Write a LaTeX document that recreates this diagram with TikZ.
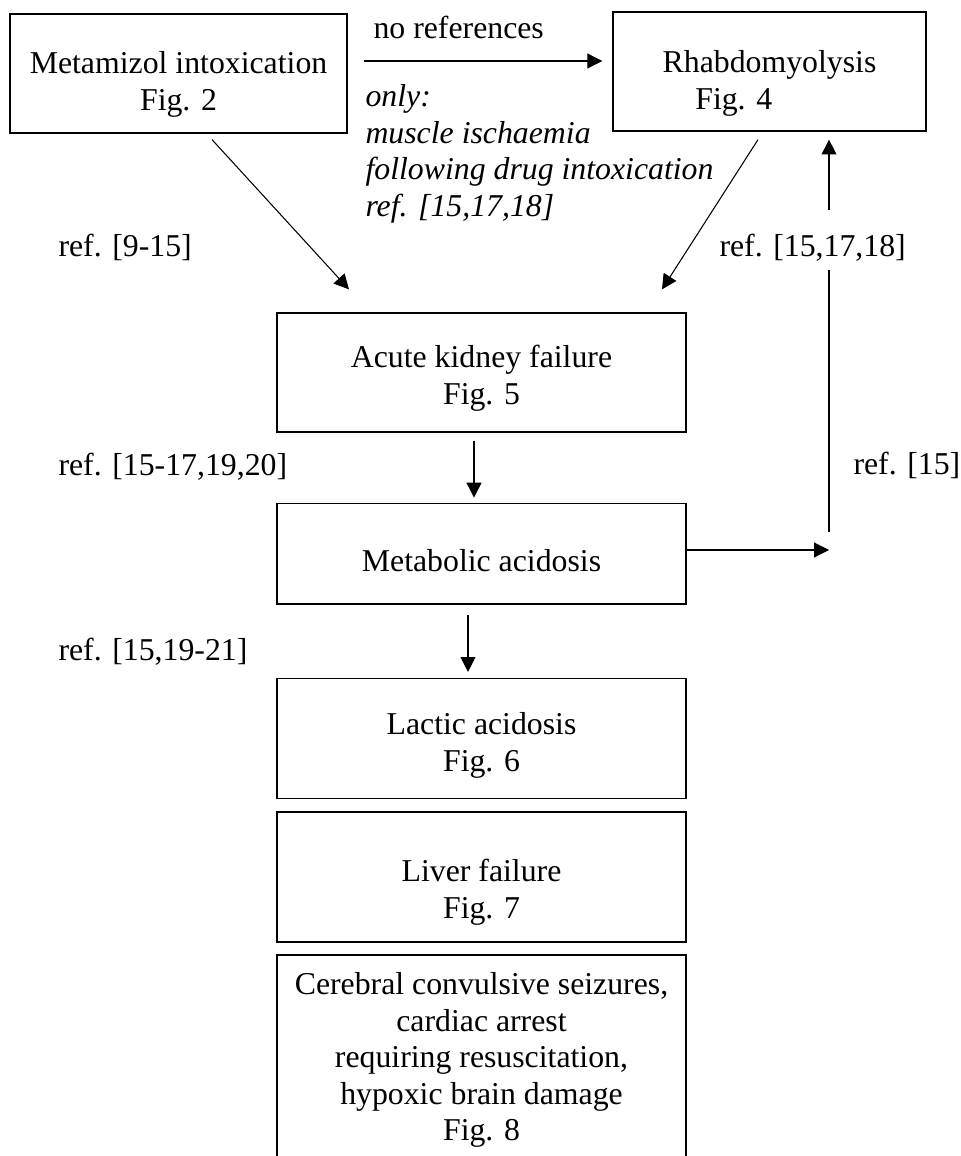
\documentclass[tikz,border=0pt]{standalone}
\usepackage{fontspec}
\setmainfont{Liberation Serif}
\usetikzlibrary{arrows.meta,positioning}

\begin{document}
\begin{tikzpicture}[
    x=0.3775pt, y=-0.3775pt,
    font=\fontsize{12}{13.8}\selectfont,
    frame/.style={draw,line width=0.5pt,align=center,minimum height=44.9pt,inner sep=2pt},
    arr/.style={-{Triangle[length=5.6pt,width=5.6pt]},line width=0.4pt},
    reftext/.style={anchor=west,inner sep=0pt},
    node distance=26.4pt
]
\useasboundingbox (0,0) rectangle (960,1156);
% top row
\node[frame,minimum width=127.2pt] (meta) at (178.5,73.5) {\rule{0pt}{16.6pt}Metamizol intoxication\\Fig. 2};
\node[frame,minimum width=118.2pt] (rhabdo) at (769.5,71.5) {\rule{0pt}{17.2pt}Rhabdomyolysis\\Fig. 4\hspace*{27pt}};
% main column
\node[frame,minimum width=154.4pt] (akf) at (481.5,372.5) {\rule{0pt}{12.8pt}Acute kidney failure\\Fig. 5};
\node[frame,minimum width=154.4pt,minimum height=38.1pt,below=26.4pt of akf] (metab) {\rule{0pt}{13.4pt}Metabolic acidosis};
\node[frame,minimum width=154.4pt,minimum height=45.3pt,below=27.6pt of metab] (lactic) {\rule{0pt}{13.4pt}Lactic acidosis\\Fig. 6};
\node[frame,minimum width=154.4pt,minimum height=49.1pt,below=4.5pt of lactic] (liver) {\rule{0pt}{20.2pt}Liver failure\\Fig. 7};
\node[frame,minimum width=154.4pt,minimum height=79.3pt,below=4.5pt of liver] (cerebral) {Cerebral convulsive seizures,\\cardiac arrest\\requiring resuscitation,\\hypoxic brain damage\\Fig. 8};
% labels
\node[reftext] (noref) at (373,27) {no references};
\node[reftext,align=left,font=\fontsize{12}{13.8}\selectfont\itshape] (only) at (365,154) {only:\\muscle ischaemia\\following drug intoxication\\ref. [15,17,18]};
\node[reftext] (refmeta) at (58,247) {ref. [9-15]};
\node[reftext] (refakf) at (58,467) {ref. [15-17,19,20]};
\node[reftext] (refmetab) at (58,652) {ref. [15,19-21]};
\node[reftext] (refrhabdo) at (719,248) {ref. [15,17,18]};
\node[reftext] (reffeed) at (853,465) {ref. [15]};
% connectors
\draw[arr] ([shift={(16,-12.5)}]meta.east) -- ([shift={(-10,-10.5)}]rhabdo.west);
\draw[arr] ([shift={(33.5,6)}]meta.south) -- ([shift={(-132.5,-23)}]akf.north);
\draw[arr] ([shift={(-11.5,8)}]rhabdo.south) -- ([shift={(180.5,-23)}]akf.north);
\draw[arr] ([shift={(-7.5,8)}]akf.south) -- ([shift={(-7.5,-5)}]metab.north);
\draw[arr] ([shift={(-13.5,10)}]metab.south) -- ([shift={(-13.5,-6)}]lactic.north);
% feedback to rhabdomyolysis
\coordinate (feedend) at (829,550);
\coordinate (feedbot) at (829,532);
\coordinate (feedmid) at (829,270);
\coordinate (feedtop) at (829,210);
\draw[arr] (metab.east |- feedend) -- (feedend);
\draw[line width=0.4pt] (feedbot) -- (feedmid);
\draw[arr] (feedtop) -- ([shift={(59.5,8)}]rhabdo.south);
\end{tikzpicture}
\end{document}
